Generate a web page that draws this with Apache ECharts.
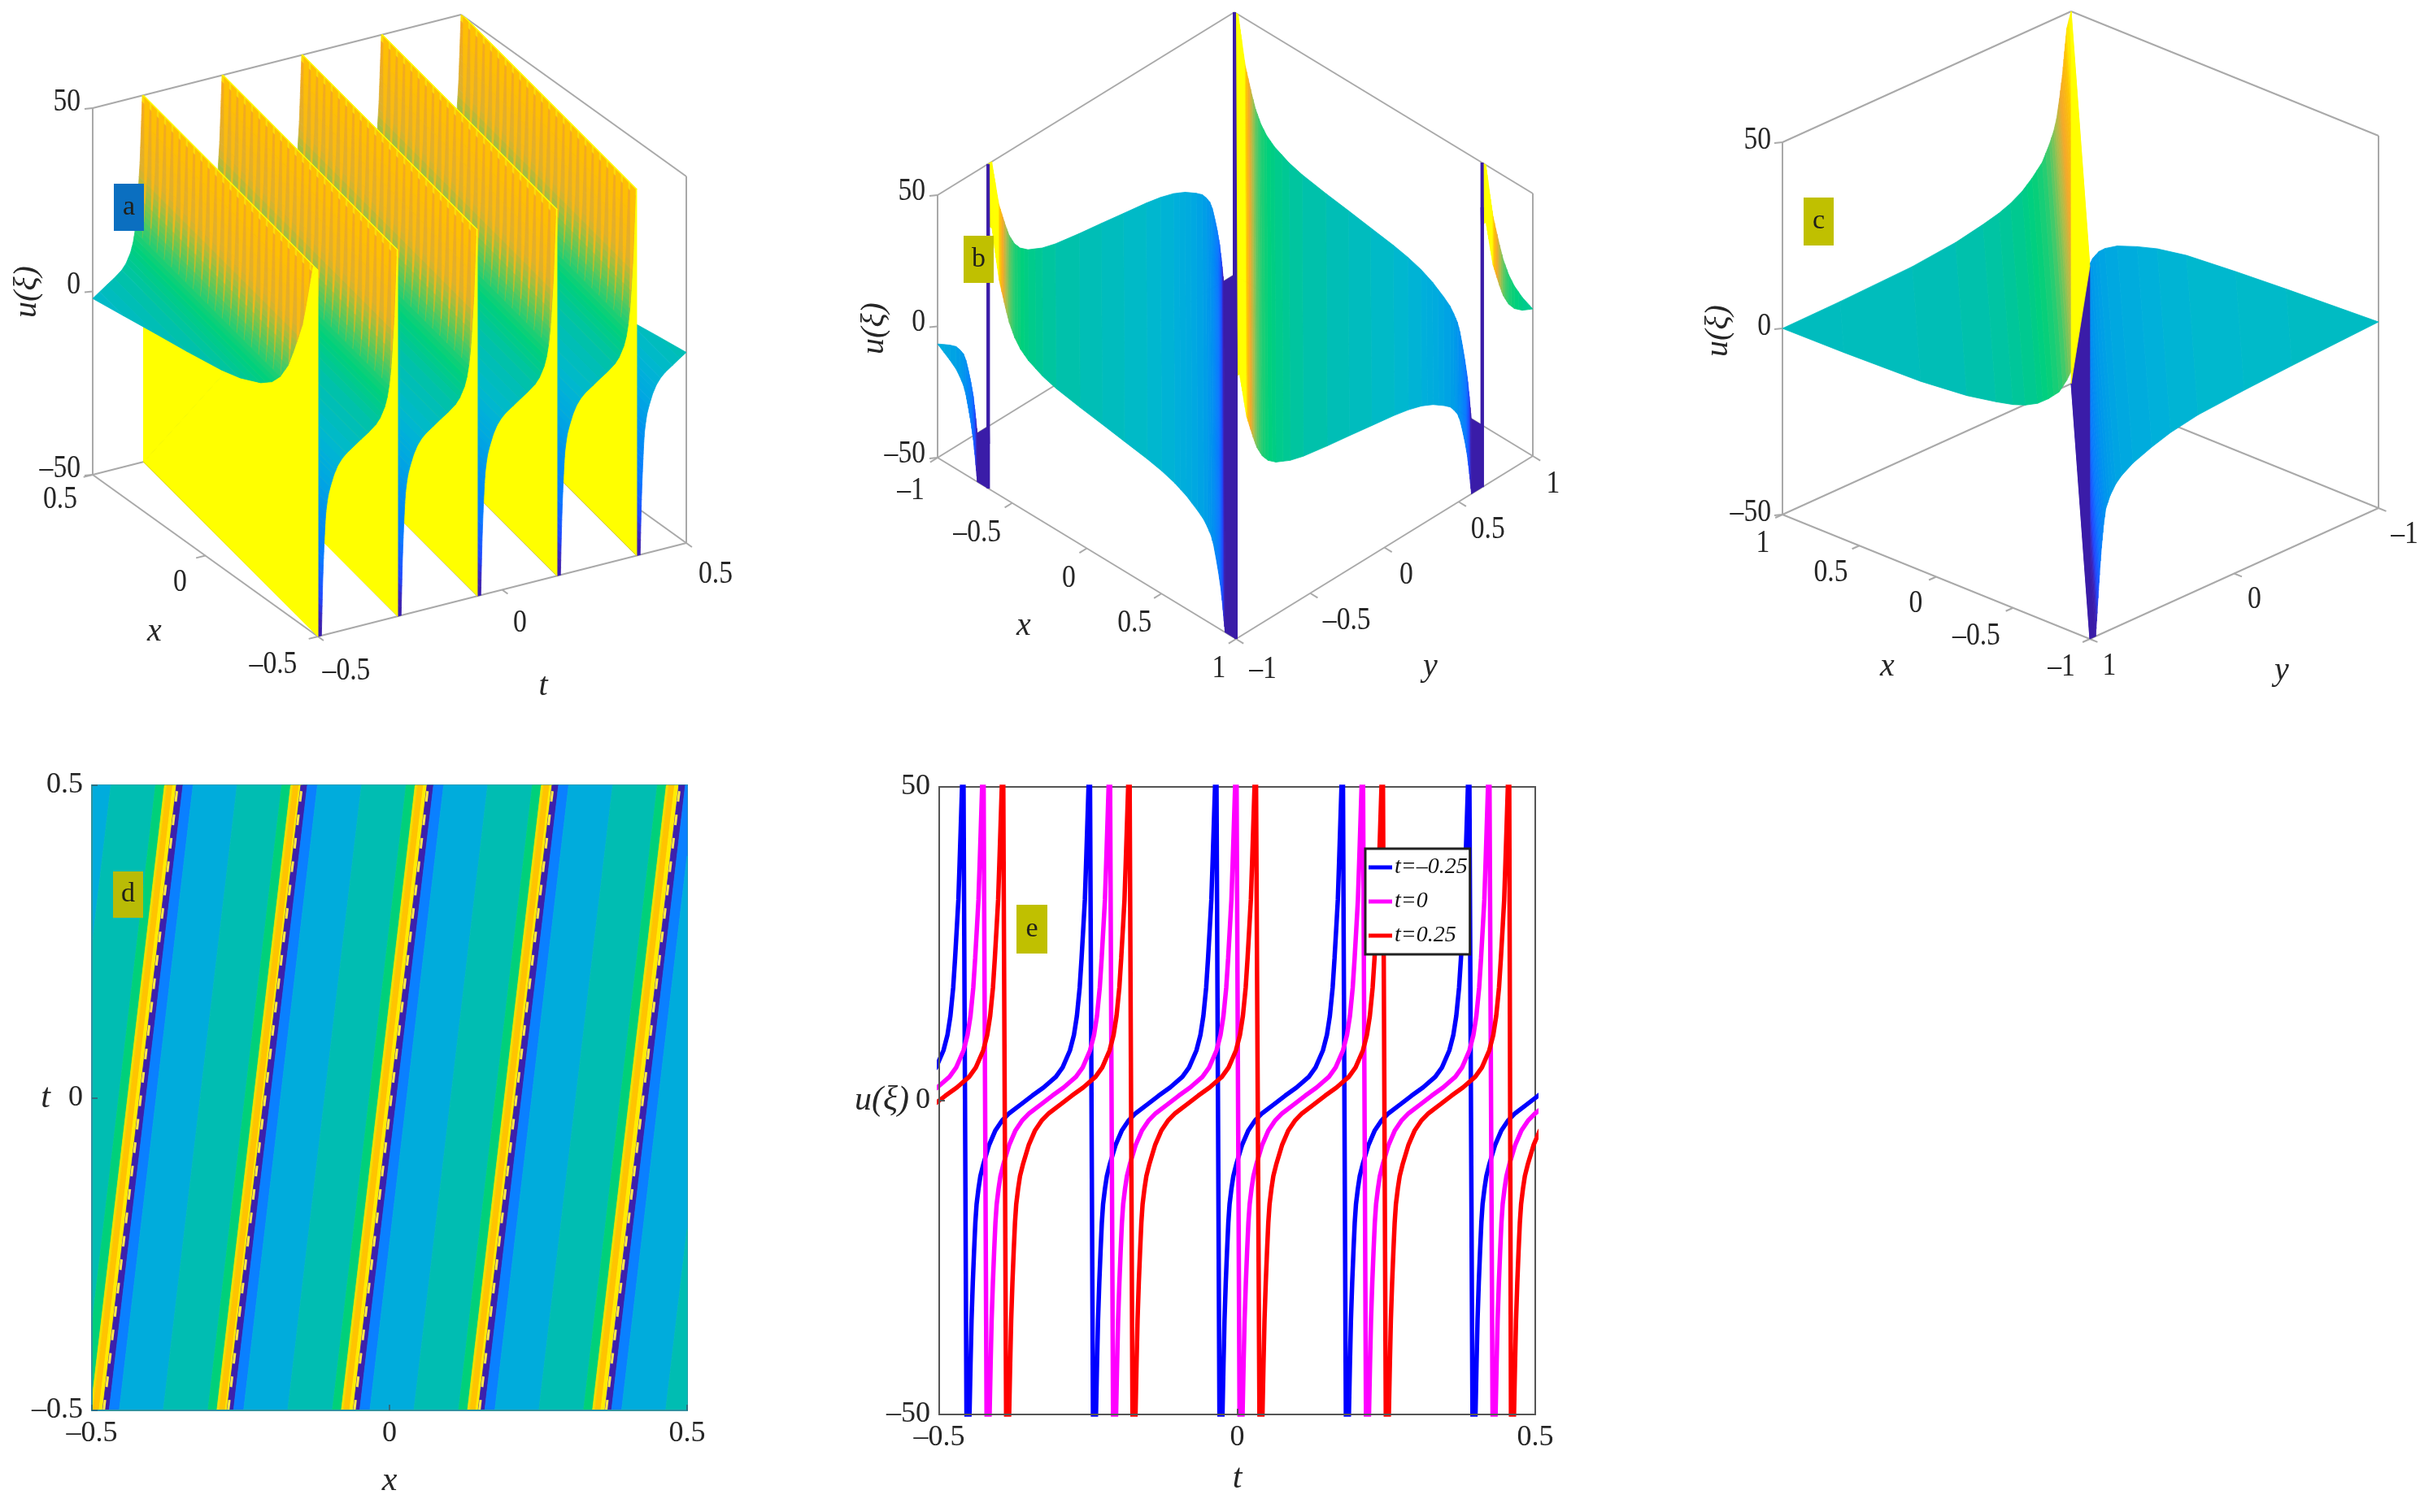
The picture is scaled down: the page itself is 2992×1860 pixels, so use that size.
<!DOCTYPE html>
<html><head><meta charset="utf-8">
<style>html,body{margin:0;padding:0;background:#fff}#c{width:2992px;height:1860px}</style>
<script src="https://cdn.jsdelivr.net/npm/echarts@6/dist/echarts.min.js"></script>
</head><body><div id="c"></div>
<script>
// ---------- values ----------
// one period of the wave u against phase (in panel e)
const profilePhase=[0,.044,.052,.06,.07,.08,.09,.10,.115,.13,.155,.2,.247,.3,.358,.45,.54,.63,.727,.78,.838,.87,.893,.915,.93,.945,.956,.966,.974,.985,1];
const profileU=[-50,-50,-42,-35,-29,-24,-19.5,-16.5,-14,-12,-10,-7,-4.8,-3.2,-2,-.6,.8,2.1,3.8,5.3,8,10.5,13.5,18,22.7,28,32,38,43,50,50];
// panel a
const aPoles=[-.7163,-.5,-.2837,-.0674,.1489,.3652];
const aPeriod=.2163, aSlope=.138;
// panel b
const bPoles=[-1.66,0,1.66,3.32];
const bPeriod=1.66;
// panel c: surface height against s=x+y
const cS=[2,1.6,1.1,.8,.61,.5,.42,.34,.27,.2,.15,.12,.1,.08,.06,.045,.03,0,0,-.04,-.05,-.06,-.07,-.08,-.095,-.11,-.14,-.18,-.22,-.3,-.43,-.56,-.75,-1.07,-1.4,-2];
const cU=[0,.2,.8,2,3.5,4.6,5.8,7.6,10,13,17,20,23,28,34,40,46,50,-50,-50,-44,-38,-32,-27,-21,-17,-14,-11.5,-10,-8,-6,-4.4,-3,-2,-1.2,0];
// panel d
const dPoles=[-.694,-.482,-.273,-.061,.149,.362];
const dDrift=.124, dPeriod=.2122;
const dBandEdges=[0,.011,.028,.102,.177,.192,.196,.206,.2122];
// panel e: line shape and where each curve blows up
const ePhase=[.02,.03,.044,.052,.06,.07,.08,.09,.10,.115,.13,.155,.2,.247,.3,.358,.45,.54,.63,.727,.78,.838,.87,.893,.915,.93,.945,.956,.966,.974,.985,.995];
const eU=[-50,-56,-50,-42,-35,-29,-24,-19.5,-16.5,-14,-12,-10,-7,-4.8,-3.2,-2,-.6,.8,2.1,3.8,5.3,8,10.5,13.5,18,22.7,28,32,38,43,50,58];
const ePolesBlue=[-.6707,-.4585,-.2463,-.0341,.178,.3904];
const ePolesMagenta=[-.637,-.4248,-.2126,-.0004,.2117,.4241];
const ePolesRed=[-.604,-.392,-.18,.033,.245,.455];
const ePeriod=.2122;
const eNames=['t=–0.25','t=0','t=0.25'];
// ticks
const zTicks=[-50,0,50];
const aXTicks=[-.5,0,.5], aTTicks=[-.5,0,.5];
const bXTicks=[-1,-.5,0,.5,1], bYTicks=[-1,-.5,0,.5,1];
const cXTicks=[1,.5,0,-.5,-1], cYTicks=[1,0,-1];

// ---------- style ----------
const SERIF='"Liberation Serif"';
const TXT='#262626', GREY='#a9a9a9';
const lowU=[-50,-46,-40,-30,-18,-10,-5,-2,2,6,10,15];
const lowC=['#3a1ca8','#3b20b4','#2048ff','#0a78ff','#0090f0','#00a6e2','#00b0da','#00b9cc','#00bfb2','#00c894','#00d07c','#30cc70'];
const mapA={u:lowU.concat([22,30,48,50]),c:lowC.concat(['#80c44a','#dcb030','#f4a820','#ffff00'])};
const mapB={u:lowU.concat([22,27,31,35,50]),c:lowC.concat(['#a8bf4c','#f4a82a','#ffc400','#ffff00','#ffff00'])};
const mapC={u:lowU.concat([22,30,42,50]),c:lowC.concat(['#a8bf4c','#f4a82a','#ffc400','#ffff00'])};
const toothMap={u:[13,19,27,50],c:['#5cc858','#b8bc30','#f8b818','#ffc000']};
function rgb(h){return [1,3,5].map(i=>parseInt(h.substr(i,2),16));}
function colorOf(u,map){
  const U=map.u,C=map.c;
  u=Math.max(U[0],Math.min(U[U.length-1],u));
  let i=0; while(i<U.length-2&&u>U[i+1]) i++;
  const f=(u-U[i])/(U[i+1]-U[i]),a=rgb(C[i]),b=rgb(C[i+1]);
  return 'rgb('+a.map((v,k)=>Math.round(v+(b[k]-v)*f)).join(',')+')';
}
function clip(poly,idx,lo,hi){
  function cut(pts,inside,bound){
    const out=[];
    for(let i=0;i<pts.length;i++){
      const p=pts[i],q=pts[(i+1)%pts.length],ip=inside(p),iq=inside(q);
      if(ip)out.push(p);
      if(ip!==iq){const f=(bound-p[idx])/(q[idx]-p[idx]);out.push(p.map((v,k)=>v+(q[k]-v)*f));}
    }
    return out;
  }
  let r=cut(poly,p=>p[idx]>=lo,lo);
  if(r.length) r=cut(r,p=>p[idx]<=hi,hi);
  return r;
}

// ---------- 3D panels ----------
const panelA={box:[0,0,960,880],F:[391,783],fv:[-277,-199],sv:[453,-115],zH:451,map:mapA,
  f:[-.5,.5],s:[-.5,.5],slope:aSlope,
  wall:['#ffff00','#ffff00'],wallStroke:['#ffff00',1],
  fTicks:aXTicks,sTicks:aTTicks,fOff:[[-55,34],[-31,33],[-40,30]],sOff:[[35,42],[22,41],[36,38]],zX:-15,zY:-8,
  titles:[['u(ξ)',33,359,1],['x',190,777,0],['t',668,844,0]]};
const panelB={box:[1000,0,960,880],F:[1520,786],fv:[-367,-223],sv:[365,-225],zH:323,map:mapB,
  f:[1,-1],s:[-1,1],slope:-1,
  wall:['#3a1ca8','#3a1ca8'],wallStroke:['#3a1ca8',4],
  fTicks:bXTicks,sTicks:bYTicks,fOff:[[-33,40],[-43,37],[-22,37],[-33,36],[-21,36]],sOff:[[33,37],[45,34],[27,34],[36,34],[25,34]],zX:-15,zY:-5,
  titles:[['u(ξ)',1075,404,1],['x',1259,770,0],['y',1759,820,0]]};
const panelC={box:[2060,0,932,880],F:[2570,786],fv:[-378,-153],sv:[355,-161],zH:458,map:mapC,
  f:[-1,1],s:[1,-1],slope:-1,
  wall:['#3a1ca8','#ffff00'],wallStroke:[null,0],wallLast:true,
  fTicks:cXTicks,sTicks:cYTicks,fOff:[[-24,35],[-35,33],[-25,33],[-45,35],[-35,34]],sOff:[[24,33],[25,32],[32,32]],zX:-14,zY:-3,
  titles:[['u(ξ)',2113,407,1],['x',2321,820,0],['y',2806,825,0]]};

function proj(P,p){
  const a=(p[0]-P.f[0])/(P.f[1]-P.f[0]),b=(p[1]-P.s[0])/(P.s[1]-P.s[0]),c=(p[2]+50)/100;
  return [P.F[0]+P.fv[0]*a+P.sv[0]*b, P.F[1]+P.fv[1]*a+P.sv[1]*b-P.zH*c];
}
function domain(P,poly){
  return clip(poly,1,Math.min(P.s[0],P.s[1]),Math.max(P.s[0],P.s[1]));
}
function addStrip(P,list,c1,u1,c2,u2){
  const n=Math.max(1,Math.ceil(Math.abs(u2-u1)/2));
  const [f0,f1]=P.f,m=P.slope;
  for(let i=0;i<n;i++){
    const a=c1+(c2-c1)*i/n,b=c1+(c2-c1)*(i+1)/n,ua=u1+(u2-u1)*i/n,ub=u1+(u2-u1)*(i+1)/n;
    const poly=domain(P,[[f0,a+m*f0,ua],[f0,b+m*f0,ub],[f1,b+m*f1,ub],[f1,a+m*f1,ua]]);
    if(poly.length) list.push({k:'poly',key:(a+b)/2,pts:poly,fill:colorOf((ua+ub)/2,P.map)});
  }
}
function addWall(P,list,c){
  const [f0,f1]=P.f,m=P.slope,key=P.wallLast?-1e9:c;
  const A=[f0,c+m*f0,-50],B=[f0,c+m*f0,50],C=[f1,c+m*f1,50],D=[f1,c+m*f1,-50];
  [[A,B,D,0],[B,C,D,1]].forEach(t=>{
    const poly=domain(P,t.slice(0,3));
    if(poly.length) list.push({k:'poly',key,pts:poly,fill:P.wall[t[3]],stroke:P.wallStroke[0]||P.wall[t[3]],lw:P.wallStroke[1]||.6});
  });
}
function surfaceA(P){
  const L=[],off=aSlope*.5;
  const first=profileU.indexOf(13.5),last=profilePhase.indexOf(.985);
  aPoles.forEach(tp=>{
    for(let i=0;i<profilePhase.length-1;i++)
      addStrip(P,L,tp+off+profilePhase[i]*aPeriod,profileU[i],tp+off+profilePhase[i+1]*aPeriod,profileU[i+1]);
    addWall(P,L,tp+off);
    // saw-tooth facets of the coarse mesh near the crest
    const N=24,key=tp+off+profilePhase[first]*aPeriod+1e-6,span=last-first;
    for(let j=0;j<N;j++){
      const x0=-.5+j/N,w=.72/N;
      for(let k=first;k<last;k++){
        const wa=w*(k-first)/span,wb=w*(k+1-first)/span;
        const ca=tp+off+profilePhase[k]*aPeriod,cb=tp+off+profilePhase[k+1]*aPeriod,ua=profileU[k],ub=profileU[k+1];
        const pt=(x,c,u)=>[x,c+aSlope*x,u];
        const poly=domain(P,[pt(x0,ca,ua),pt(x0+wa,ca,ua),pt(x0+wb,cb,ub),pt(x0,cb,ub)]);
        if(poly.length) L.push({k:'poly',key,pts:poly,fill:colorOf((ua+ub)/2,toothMap),lw:.3});
      }
    }
  });
  return L;
}
function surfaceB(P){
  const L=[];
  bPoles.forEach(sk=>{
    for(let i=0;i<profilePhase.length-1;i++)
      addStrip(P,L,sk-profilePhase[i]*bPeriod,profileU[i],sk-profilePhase[i+1]*bPeriod,profileU[i+1]);
    addWall(P,L,sk);
  });
  return L;
}
function surfaceC(P){
  const L=[];
  for(let i=0;i<cS.length-1;i++) if(cS[i]!==cS[i+1]) addStrip(P,L,cS[i],cU[i],cS[i+1],cU[i+1]);
  addWall(P,L,0);
  return L;
}
function frameItems(P){
  const L=[],[f0,f1]=P.f,[s0,s1]=P.s,line=(a,b)=>L.push({k:'line',a:proj(P,a),b:proj(P,b)});
  line([f1,s0,-50],[f1,s0,50]); line([f1,s0,50],[f1,s1,50]); line([f1,s1,50],[f0,s1,50]); line([f0,s1,50],[f0,s1,-50]);
  line([f1,s0,-50],[f1,s1,-50]); line([f1,s1,-50],[f0,s1,-50]);
  line([f1,s0,-50],[f0,s0,-50]); line([f0,s0,-50],[f0,s1,-50]);
  const ds=(s1-s0)*.025,df=(f1-f0)*.025;
  P.fTicks.forEach(v=>line([v,s0,-50],[v,s0-ds,-50]));
  P.sTicks.forEach(v=>line([f0,v,-50],[f0-df,v,-50]));
  zTicks.forEach(v=>{const q=proj(P,[f1,s0,v]);L.push({k:'line',a:q,b:[q[0]-10,q[1]+1]});});
  return L;
}
function fmt(v){return v<0?'–'+(-v):String(v);}
function labelItems(P){
  const L=[],[f0,f1]=P.f,[s0,s1]=P.s;
  P.fTicks.forEach((v,i)=>{const q=proj(P,[v,s0,-50]),o=P.fOff[i];L.push({k:'text',x:q[0]+o[0],y:q[1]+o[1],t:fmt(v),al:'center'});});
  P.sTicks.forEach((v,i)=>{const q=proj(P,[f0,v,-50]),o=P.sOff[i];L.push({k:'text',x:q[0]+o[0],y:q[1]+o[1],t:fmt(v),al:'center'});});
  zTicks.forEach(v=>{const q=proj(P,[f1,s0,v]);L.push({k:'text',x:q[0]+P.zX,y:q[1]+P.zY,t:fmt(v),al:'right'});});
  P.titles.forEach(t=>L.push({k:'text',x:t[1],y:t[2],t:t[0],al:'center',it:1,rot:t[3]?Math.PI/2:0}));
  return L;
}
function panelSeries(P,surf,idx){
  const sorted=surf.sort((a,b)=>b.key-a.key);
  const items=frameItems(P).concat(sorted,labelItems(P));
  return {type:'custom',xAxisIndex:idx,yAxisIndex:idx,silent:true,animation:false,progressive:0,clip:false,
    encode:{x:0,y:1},data:items.map(()=>[P.box[0],P.box[1]]),
    renderItem(params,api){
      const it=items[params.dataIndex];
      if(it.k==='poly'){
        const pts=it.pts.map(p=>api.coord(proj(P,p)));
        return {type:'polygon',shape:{points:pts},style:{fill:it.fill,stroke:it.stroke||it.fill,lineWidth:it.lw||.8}};
      }
      if(it.k==='line'){
        const a=api.coord(it.a),b=api.coord(it.b);
        return {type:'line',shape:{x1:a[0],y1:a[1],x2:b[0],y2:b[1]},style:{stroke:GREY,lineWidth:2}};
      }
      const c=api.coord([it.x,it.y]);
      return {type:'text',x:c[0],y:c[1],rotation:it.rot||0,scaleX:it.it?1:.84,
        style:{text:it.t,align:it.al,verticalAlign:'middle',fontFamily:SERIF,fontSize:40,fontStyle:it.it?'italic':'normal',fill:TXT}};
    }};
}

// ---------- panel d ----------
const dColors=['#3c20ac','#0a80ff','#00acdc','#00bdb2','#00d07a','#f0e000','#ffc400','#ffec00'];
const dItems=[];
dPoles.forEach(p=>{
  for(let i=0;i<dBandEdges.length-1;i++){
    const a=p+dBandEdges[i],b=p+dBandEdges[i+1];
    const poly=clip([[a,-.5],[b,-.5],[b+dDrift,.5],[a+dDrift,.5]],0,-.5,.5);
    if(poly.length) dItems.push({poly,fill:dColors[i]});
  }
});
dPoles.slice(1).forEach(p=>dItems.push({dash:[[p+.002,-.5],[p+.002+dDrift,.5]]}));
const dSeries={type:'custom',xAxisIndex:3,yAxisIndex:3,silent:true,animation:false,progressive:0,
  encode:{x:0,y:1},data:dItems.map(()=>[0,0]),
  renderItem(params,api){
    const it=dItems[params.dataIndex];
    if(it.dash){
      const a=api.coord(it.dash[0]),b=api.coord(it.dash[1]);
      return {type:'line',shape:{x1:a[0],y1:a[1],x2:b[0],y2:b[1]},style:{stroke:'#ffe84a',lineWidth:3,lineDash:[13,16]}};
    }
    return {type:'polygon',shape:{points:it.poly.map(p=>api.coord(p))},style:{fill:it.fill,stroke:it.fill,lineWidth:.8}};
  }};

// ---------- panel e ----------
function curve(poles){
  const out=[];
  poles.forEach(p=>ePhase.forEach((f,i)=>out.push([p+f*ePeriod,eU[i]])));
  return out;
}
const eColors=['#0000ff','#ff00ff','#ff0000'];
const eSeries=[ePolesBlue,ePolesMagenta,ePolesRed].map((poles,i)=>({
  type:'line',name:eNames[i],xAxisIndex:4,yAxisIndex:4,data:curve(poles),showSymbol:false,
  silent:true,animation:false,clip:true,lineStyle:{color:eColors[i],width:5.5},itemStyle:{color:eColors[i]}}));

// ---------- axes ----------
const hid=(P)=>({x:{type:'value',show:false,min:P.box[0],max:P.box[0]+P.box[2]},
  y:{type:'value',show:false,min:P.box[1],max:P.box[1]+P.box[3],inverse:true}});
const hA=hid(panelA),hB=hid(panelB),hC=hid(panelC);
const gridOf=P=>({left:P.box[0],top:P.box[1],width:P.box[2],height:P.box[3],show:false});
const axisFont={fontFamily:SERIF,fontSize:36,color:TXT,formatter:fmt};
function realAxis(gi,min,max,interval,name,gap,rot,edge,tick){
  return {type:'value',gridIndex:gi,min,max,interval,name,nameLocation:'middle',nameGap:gap,nameRotate:rot,nameMoveOverlap:false,
    nameTextStyle:{fontFamily:SERIF,fontSize:42,fontStyle:'italic',color:TXT},
    axisLine:{show:true,onZero:false,lineStyle:{color:edge,width:2}},
    axisTick:{show:true,inside:true,length:7,lineStyle:{color:tick,width:2}},
    splitLine:{show:false},axisLabel:Object.assign({margin:11},axisFont),z:5};
}

// ---------- panel letters ----------
const letters=[['a',140,226,37,58,'#0b6fc0'],['b',1185,290,37,58,'#c0c000'],['c',2218,243,37,59,'#c0c000'],['d',139,1072,37,57,'#b9bb06'],['e',1250,1113,38,60,'#c0c000']];

const option={
  backgroundColor:'#fff',animation:false,
  grid:[gridOf(panelA),gridOf(panelB),gridOf(panelC),
    {left:113,top:966,width:732,height:769,show:true,borderColor:'#2f93a0',borderWidth:2,backgroundColor:'transparent'},
    {left:1155,top:968,width:733,height:772,show:true,borderColor:'#555',borderWidth:2,backgroundColor:'transparent'}],
  xAxis:[Object.assign({gridIndex:0},hA.x),Object.assign({gridIndex:1},hB.x),Object.assign({gridIndex:2},hC.x),
    realAxis(3,-.5,.5,.5,'x',66,0,'#2f93a0','#2f6f80'),realAxis(4,-.5,.5,.5,'t',58,0,'#555','#555')],
  yAxis:[Object.assign({gridIndex:0},hA.y),Object.assign({gridIndex:1},hB.y),Object.assign({gridIndex:2},hC.y),
    realAxis(3,-.5,.5,.5,'t',51,0,'#2f93a0','#2f6f80'),realAxis(4,-50,50,50,'u(ξ)',37,0,'#555','#555')],
  legend:{show:true,data:eNames,orient:'vertical',left:1679,top:1044,padding:[9,3,9,4],itemGap:14,itemWidth:29,itemHeight:5,icon:'rect',
    backgroundColor:'#fff',borderColor:'#222',borderWidth:3,z:20,selectedMode:false,
    textStyle:{fontFamily:SERIF,fontSize:28,fontStyle:'italic',color:'#111',padding:[0,0,0,-2]}},
  series:[panelSeries(panelA,surfaceA(panelA),0),panelSeries(panelB,surfaceB(panelB),1),panelSeries(panelC,surfaceC(panelC),2),dSeries].concat(eSeries),
  graphic:{elements:letters.flatMap(l=>[
    {type:'rect',z:30,shape:{x:l[1],y:l[2],width:l[3],height:l[4]},style:{fill:l[5]}},
    {type:'text',z:31,x:l[1]+l[3]/2,y:l[2]+l[4]/2,style:{text:l[0],align:'center',verticalAlign:'middle',fontFamily:SERIF,fontSize:34,fill:'#20201a'}}
  ])}
};
echarts.init(document.getElementById('c'),null,{renderer:'canvas'}).setOption(option);
</script></body></html>
